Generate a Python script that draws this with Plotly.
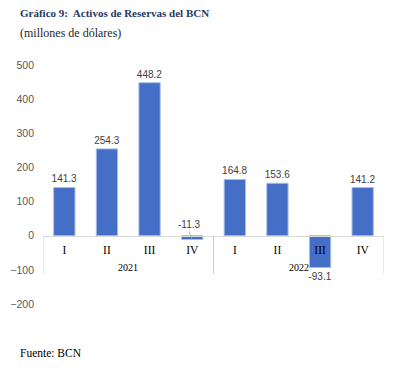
import plotly.graph_objects as go

years = ["2021", "2021", "2021", "2021", "2022", "2022", "2022", "2022"]
quarters = ["I", "II", "III", "IV", "I", "II", "III", "IV"]
values = [141.3, 254.3, 448.2, -11.3, 164.8, 153.6, -93.1, 141.2]
y_ticks = [-200, -100, 0, 100, 200, 300, 400, 500]

title = "Gráfico 9:  Activos de Reservas del BCN"
subtitle = "(millones de dólares)"
source = "Fuente: BCN"

ymin, ymax = -200, 500
zero_frac = (0 - ymin) / (ymax - ymin)
xs = list(range(len(values)))

labels = [("" if v == -11.3 else f"{v:.1f}") for v in values]

# page has an 8px body margin: positions below are offset for it
L, T, PW, PH = 35, 57, 341, 239

fig = go.Figure()
fig.add_trace(go.Bar(
    x=xs, y=values,
    marker=dict(color="#456ec7", line=dict(color="#a9bde6", width=1)),
    width=0.5,
    text=labels, textposition="outside", cliponaxis=False, constraintext="none",
    textfont=dict(family="Liberation Sans", size=10, color="#404040"),
))

idx = values.index(-11.3)
fig.add_annotation(
    x=idx, y=values[idx], xref="x", yref="y",
    text=f"{values[idx]:.1f}", showarrow=True, arrowhead=0, arrowwidth=0.8,
    arrowcolor="#a6a6a6", ax=-3, ay=-8, standoff=0,
    font=dict(family="Liberation Sans", size=10, color="#404040"),
    yanchor="bottom",
)

# year group labels and dividers
groups = []
for i, yv in enumerate(years):
    if not groups or groups[-1][0] != yv:
        groups.append([yv, i, i])
    else:
        groups[-1][2] = i
bounds = sorted({g[1] - 0.5 for g in groups} | {g[2] + 0.5 for g in groups})
for b in bounds:
    fig.add_shape(type="line", xref="x", yref="y", x0=b, x1=b,
                  ysizemode="pixel", yanchor=0, y0=0, y1=-38,
                  line=dict(color="#d0d0d0", width=1), layer="above")
for yv, a, b in groups:
    fig.add_annotation(x=(a + b) / 2, y=0, xref="x", yref="y", text=yv,
                       showarrow=False, yanchor="middle", yshift=-32,
                       font=dict(family="Liberation Serif", size=10, color="#000000"))

fig.update_layout(
    width=L + PW + 9, height=T + PH + 64,
    margin=dict(l=L, r=9, t=T, b=64, autoexpand=False),
    paper_bgcolor="white", plot_bgcolor="white",
    showlegend=False,
    xaxis=dict(
        range=[-0.5, len(values) - 0.5], tickvals=xs, ticktext=quarters,
        anchor="free", position=zero_frac, automargin=False,
        showline=True, linecolor="#d9d9d9", linewidth=1,
        tickfont=dict(family="Liberation Serif", size=11.5, color="#000000"),
        ticks="", showgrid=False, zeroline=False, ticklabelstandoff=3,
    ),
    yaxis=dict(
        range=[ymin, ymax], tickvals=y_ticks, automargin=False,
        showgrid=False, zeroline=False, showline=False,
        tickfont=dict(family="Liberation Sans", size=10.5, color="#595959"),
        ticklabelstandoff=8,
    ),
)

def px_x(x):
    return (x - 8 - L) / PW

def px_y(y):
    return 1 - (y - 8 - T) / PH

fig.add_annotation(text=f"<b>{title}</b>", xref="paper", yref="paper",
                   x=px_x(18), y=px_y(13), xanchor="left", yanchor="middle", showarrow=False,
                   font=dict(family="Liberation Serif", size=11, color="#1f3864"))
fig.add_annotation(text=subtitle, xref="paper", yref="paper",
                   x=px_x(18), y=px_y(33), xanchor="left", yanchor="middle",
                   showarrow=False,
                   font=dict(family="Liberation Serif", size=12, color="#1f1f1f"))
fig.add_annotation(text=source, xref="paper", yref="paper",
                   x=px_x(18), y=px_y(353), xanchor="left", yanchor="middle",
                   showarrow=False,
                   font=dict(family="Liberation Serif", size=11.5, color="#000000"))

fig.write_html("out.html")
